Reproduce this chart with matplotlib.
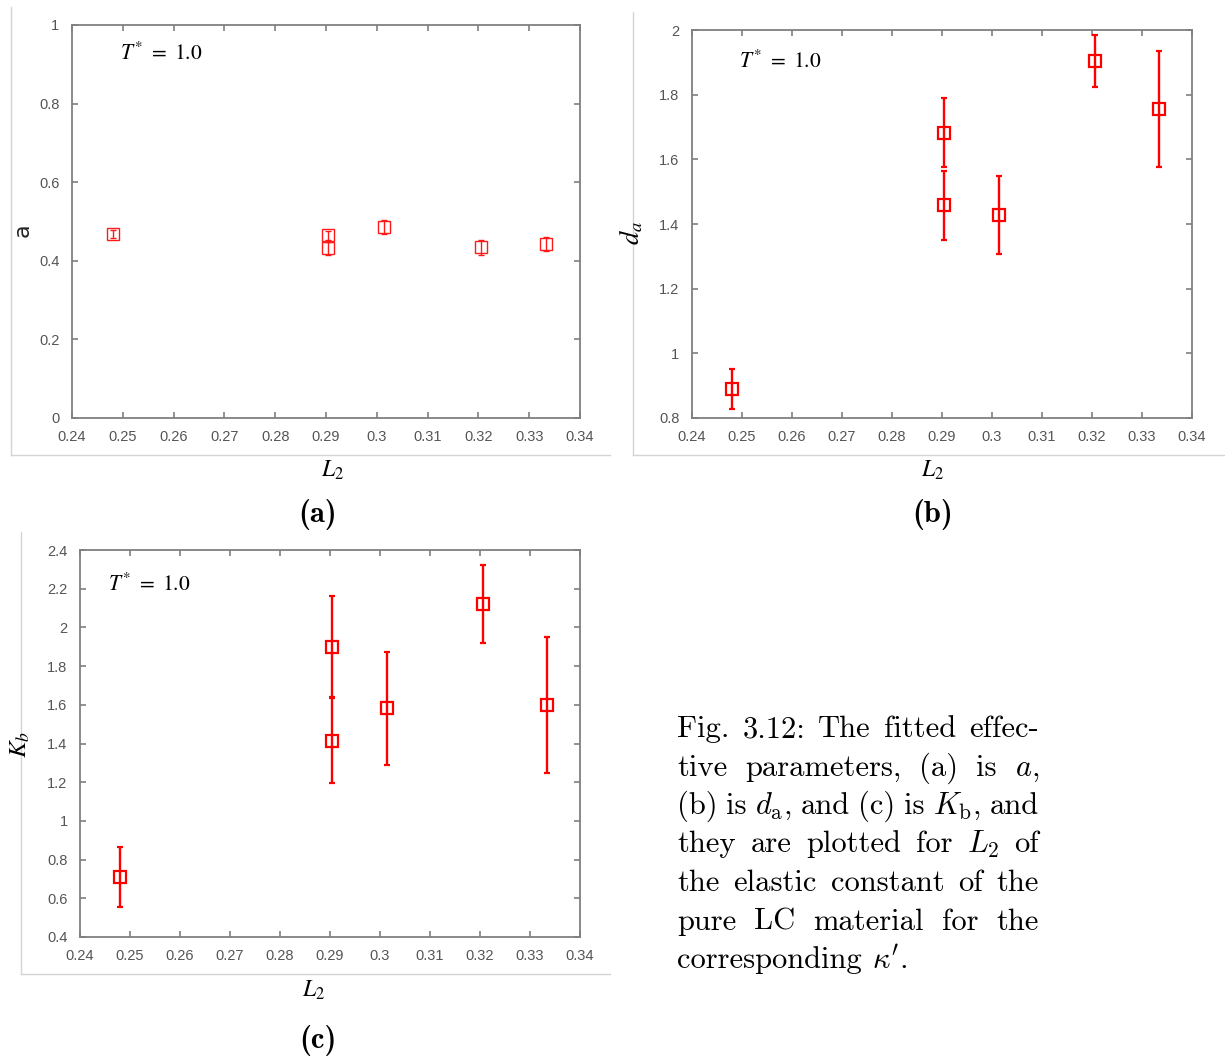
import numpy as np
import matplotlib
matplotlib.use('Agg')
import matplotlib.pyplot as plt
from matplotlib.lines import Line2D
from matplotlib.ticker import FuncFormatter

# Datos
L2 = [0.248, 0.2903, 0.2903, 0.3014, 0.3205, 0.3334]

a_val = [0.468, 0.465, 0.432, 0.486, 0.434, 0.443]
a_err = [0.010, 0.012, 0.017, 0.019, 0.020, 0.017]

da_val = [0.890, 1.682, 1.458, 1.427, 1.903, 1.756]
da_err = [0.063, 0.107, 0.106, 0.120, 0.080, 0.180]

Kb_val = [0.710, 1.900, 1.415, 1.581, 2.120, 1.599]
Kb_err = [0.157, 0.262, 0.221, 0.294, 0.202, 0.349]

x_ticks = [0.24, 0.25, 0.26, 0.27, 0.28, 0.29, 0.30, 0.31, 0.32, 0.33, 0.34]
a_ticks = [0, 0.2, 0.4, 0.6, 0.8, 1.0]
da_ticks = [0.8, 1.0, 1.2, 1.4, 1.6, 1.8, 2.0]
Kb_ticks = [0.4, 0.6, 0.8, 1.0, 1.2, 1.4, 1.6, 1.8, 2.0, 2.2, 2.4]

caption = [
    "Fig. 3.12: The fitted effec-",
    "tive parameters, (a) is $a$,",
    r"(b) is $d_\mathrm{a}$, and (c) is $K_\mathrm{b}$, and",
    "they are plotted for $L_2$ of",
    "the elastic constant of the",
    "pure LC material for the",
    r"corresponding $\kappa'$.",
]

W, H = 1225, 1059
fig = plt.figure(figsize=(W / 100, H / 100), dpi=100)


def fx(px):
    return px / W


def fy(py):
    return 1 - py / H


fmt = FuncFormatter(lambda v, p: f'{round(v, 2):g}')


def make_axes(left, top, right, bottom, yticks):
    ax = fig.add_axes([fx(left), fy(bottom), (right - left) / W, (bottom - top) / H])
    ax.set_xlim(x_ticks[0], x_ticks[-1])
    ax.set_ylim(yticks[0], yticks[-1])
    ax.set_xticks(x_ticks)
    ax.set_yticks(yticks)
    ax.xaxis.set_major_formatter(fmt)
    ax.yaxis.set_major_formatter(fmt)
    ax.tick_params(direction='in', top=True, right=True, length=4, width=1.2,
                   color='#7f7f7f', labelcolor='#555555', labelsize=10.5, pad=9)
    for lab in ax.get_xticklabels() + ax.get_yticklabels():
        lab.set_family('Liberation Sans')
    for s in ax.spines.values():
        s.set_color('#808080')
        s.set_linewidth(1.3)
    return ax


def frame(left, top, right, bottom):
    fig.add_artist(Line2D([fx(left), fx(left)], [fy(top), fy(bottom)],
                          transform=fig.transFigure, color='#d4d4d4', lw=1))
    fig.add_artist(Line2D([fx(left), fx(right)], [fy(bottom), fy(bottom)],
                          transform=fig.transFigure, color='#d4d4d4', lw=1))


# (a)
ax1 = make_axes(72, 25, 580, 418, a_ticks)
ax1.errorbar(L2, a_val, yerr=a_err, fmt='s', mfc='none', mec='#ff1a1a', ms=8.5, mew=1.0,
             ecolor='#ff1a1a', elinewidth=1.0, capsize=2, capthick=1.0)
frame(11, 7, 610, 455)

# (b)
ax2 = make_axes(692, 30, 1192, 418, da_ticks)
ax2.errorbar(L2, da_val, yerr=da_err, fmt='s', mfc='none', mec='#ff0000', ms=8.5, mew=1.6,
             ecolor='#ff0000', elinewidth=1.7, capsize=2, capthick=1.7)
frame(633, 12, 1225, 455)

# (c)
ax3 = make_axes(80, 550, 580, 937, Kb_ticks)
ax3.errorbar(L2, Kb_val, yerr=Kb_err, fmt='s', mfc='none', mec='#ff0000', ms=8.5, mew=1.6,
             ecolor='#ff0000', elinewidth=1.7, capsize=2, capthick=1.7)
frame(21, 532, 610, 974)

# T* = 1.0
for x, y in [(120, 60), (739, 68), (108, 591)]:
    fig.text(fx(x), fy(y), r'$T^{*}\ =\ 1.0$', fontsize=15.5, math_fontfamily='stix',
             va='baseline', ha='left')

# etiquetas de ejes
fig.text(fx(23), fy(230), 'a', rotation=90, fontsize=16, ha='center', va='center', color='#222222')
fig.text(fx(632), fy(233), r'$d_a$', rotation=90, fontsize=19, ha='center', va='center',
         math_fontfamily='stix')
fig.text(fx(20), fy(745), r'$K_b$', rotation=90, fontsize=18, ha='center', va='center',
         math_fontfamily='stix')
for x, y in [(333, 470), (933, 470), (314, 990)]:
    fig.text(fx(x), fy(y), r'$L_2$', fontsize=17, ha='center', va='center', math_fontfamily='stix')

# (a) (b) (c)
for lab, x, y in [('(a)', 318, 515), ('(b)', 933, 515), ('(c)', 318, 1040)]:
    fig.text(fx(x), fy(y), lab, fontsize=22, ha='center', va='center', family='cmb10')

# pie de figura justificado
r = fig.canvas.get_renderer()
x0, x1 = 677, 1039
y0, dy = 737, 38.5
fs = 22
for i, line in enumerate(caption):
    words = line.split(' ')
    texts = [fig.text(0, 0, w, fontsize=fs, family='cmr10', math_fontfamily='cm', va='baseline')
             for w in words]
    widths = [t.get_window_extent(r).width for t in texts]
    if i == len(caption) - 1:
        gap = fs * 100 / 72 * 0.333
    else:
        gap = (x1 - x0 - sum(widths)) / (len(words) - 1)
    x = x0
    for t, w in zip(texts, widths):
        t.set_position((fx(x), fy(y0 + i * dy)))
        x += w + gap

plt.savefig('out.png', dpi=100)
